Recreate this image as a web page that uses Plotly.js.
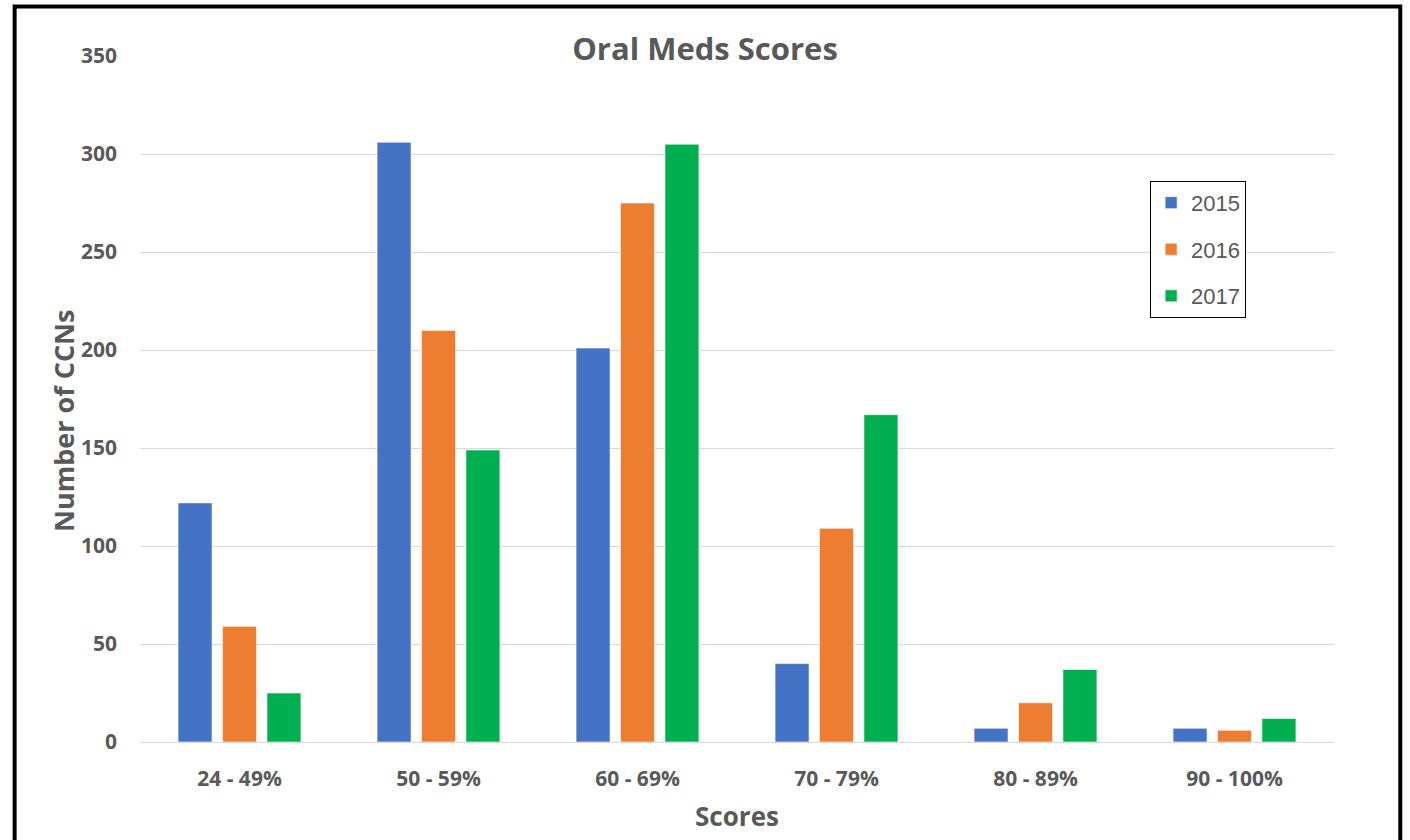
<!DOCTYPE html>
<html>
<head>
<meta charset="utf-8">
<script src="https://cdn.plot.ly/plotly-3.0.1.min.js"></script>
<style>html,body{margin:0;padding:0;background:#fff;}#chart{width:1410px;height:840px;}</style>
</head>
<body>
<div id="chart"></div>
<script>
const categories = ["24 - 49%", "50 - 59%", "60 - 69%", "70 - 79%", "80 - 89%", "90 - 100%"];
const years = ["2015", "2016", "2017"];
const values2015 = [122, 306, 201, 40, 7, 7];
const values2016 = [59, 210, 275, 109, 20, 6];
const values2017 = [25, 149, 305, 167, 37, 12];
const colors = ["#4472C4", "#ED7D31", "#00B050"];
const yTicks = [0, 50, 100, 150, 200, 250, 300, 350];

const series = [values2015, values2016, values2017];
const traces = series.map((vals, i) => ({
  type: "bar",
  name: years[i],
  x: categories,
  y: vals,
  legendgroup: years[i],
  marker: {color: colors[i], line: {color: "rgba(255,255,255,0.6)", width: 1}},
  hoverinfo: "x+y+name"
}));

const gray = "#595959";
const font = "'Open Sans', Lato, sans-serif";

const layout = {
  width: 1410, height: 840,
  margin: {l: 140, r: 76, t: 56, b: 98},
  paper_bgcolor: "#ffffff",
  plot_bgcolor: "#ffffff",
  barmode: "group",
  bargap: 0.33,
  bargroupgap: 0.235,
  title: {text: "<b>Oral Meds Scores</b>", font: {family: font, size: 31, color: gray}, x: 0.5, xanchor: "center", y: 0.941, yanchor: "middle"},
  font: {family: font, color: gray},
  xaxis: {
    type: "category",
    tickvals: categories,
    ticktext: categories.map(c => "<b>" + c + "</b>"),
    tickfont: {family: font, size: 21, color: gray},
    showgrid: false,
    showline: true, linecolor: "#d9d9d9", linewidth: 1,
    ticks: "", ticklabelstandoff: 18,
    title: {text: "<b>Scores</b>", font: {family: font, size: 26, color: gray}, standoff: 16}
  },
  yaxis: {
    range: [0, 350],
    tickvals: yTicks,
    ticktext: yTicks.map(v => "<b>" + v + "</b>"),
    tickfont: {family: font, size: 21, color: gray},
    showgrid: true, gridcolor: "#d9d9d9", gridwidth: 1,
    zeroline: false, showline: false,
    ticks: "", ticklabelstandoff: 22
  },
  annotations: [
    {text: "<b>Number of CCNs</b>", xref: "paper", yref: "paper",
     x: (63 - 140) / 1194, y: (742 - 421) / 686, xanchor: "center", yanchor: "middle",
     textangle: -90, showarrow: false, font: {family: font, size: 27, color: gray}}
  ],
  legend: {
    x: 0.846, y: 0.818, xanchor: "left", yanchor: "top",
    bordercolor: "#000000", borderwidth: 1, bgcolor: "#ffffff",
    font: {family: "'Liberation Sans', Arial, sans-serif", size: 22, color: gray},
    traceorder: "grouped", tracegroupgap: 15,
    itemwidth: 30
  },
  shapes: [
    {type: "rect", xref: "paper", yref: "paper", x0: -0.105, x1: 1.0555, y0: 1.072, y1: -0.3,
     line: {color: "#000000", width: 4}, fillcolor: "rgba(0,0,0,0)", layer: "above"}
  ]
};

Plotly.newPlot("chart", traces, layout, {displayModeBar: false, staticPlot: true});
</script>
</body>
</html>
